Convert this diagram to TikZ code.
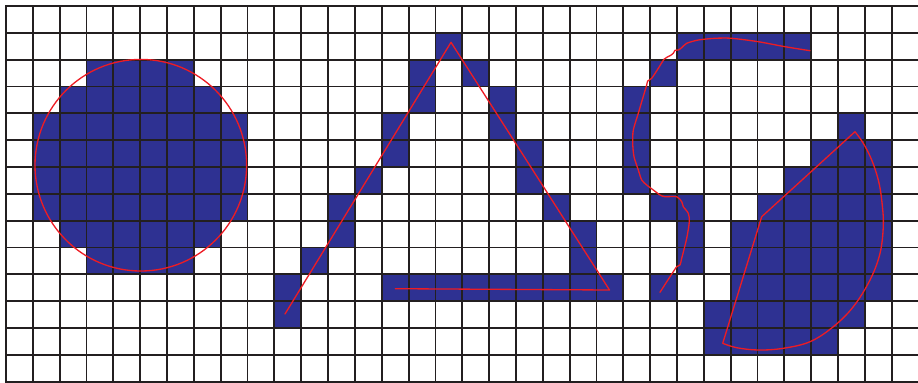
\documentclass[tikz,border=0pt]{standalone}
\definecolor{cellblue}{RGB}{46,49,146}
\definecolor{penred}{RGB}{237,28,36}
\definecolor{gridline}{RGB}{35,31,32}
\begin{document}
\begin{tikzpicture}[x=0.02cm,y=-0.02cm,
  cellfill/.style={fill=cellblue},
  gridrule/.style={draw=gridline,line width=1.05pt,line cap=rect},
  redpen/.style={draw=penred,line width=0.75pt,line join=round,line cap=round}]
\useasboundingbox (0,0) rectangle (918,382);
% filled cells: row / first column / last column
\foreach \r/\a/\b in {2/3/6,3/2/7,4/1/8,5/1/8,6/1/8,7/1/8,8/2/7,9/3/6,
  1/16/16,2/15/15,2/17/17,3/15/15,3/18/18,4/14/14,4/18/18,5/14/14,5/19/19,
  6/13/13,6/19/19,7/12/12,7/20/20,8/12/12,8/21/21,9/11/11,9/21/21,
  10/10/10,11/10/10,10/14/22,
  1/25/29,2/24/24,3/23/23,4/23/23,5/23/23,6/23/23,7/24/25,8/25/25,9/25/25,10/24/24,
  4/31/31,5/30/32,6/29/32,7/28/32,8/27/32,9/27/32,10/27/32,11/26/31,12/26/30}
  \fill[cellfill] ({6+26.84*\a},{6+26.84*\r}) rectangle ({6+26.84*(\b+1)},{6+26.84*(\r+1)});
% grid
\foreach \i in {0,...,34}
  \draw[gridrule] ({6+26.84*\i},6) -- ({6+26.84*\i},{6+26.84*14});
\foreach \j in {0,...,14}
  \draw[gridrule] (6,{6+26.84*\j}) -- ({6+26.84*34},{6+26.84*\j});
% red outlines
\draw[redpen] (140.8,165.2) circle[radius=105.8];
\draw[redpen] (285,314) -- (451,42.3) -- (609.5,290) -- (395.3,288.7);
\draw[redpen] plot[smooth,tension=0.45] coordinates {
  (810,50.7) (785,46.7) (758.3,41.7) (731.7,38.3) (715,38.3) (698.3,40)
  (686.7,43.3) (681.7,47.7) (678.3,50) (675,50.3) (673.3,53.3) (670,55.7)
  (664.3,59) (658.3,68.3) (651.7,78.3) (647.7,81) (646.7,85) (641.7,101.7)
  (638.3,113.3) (633.3,130) (632.7,143.3) (634,156.7) (638.3,170) (641.7,180)
  (646.7,185) (653.3,190) (660,195) (665,196.7) (676.7,196.7) (681.7,201.7)
  (683.3,206.7) (688.3,213.3) (689.3,221.7) (686.7,238.3) (681.7,258.3)
  (680,265) (676.7,266.7) (670,276.7) (660,292.3)};
\draw[redpen] (855,131.7) -- (761.7,216.7) -- (722.7,343.3) -- plot[smooth,tension=0.6] coordinates {
  (722.7,343.3) (736.7,347.7) (758.3,350) (783.3,348.3) (810,341.7) (833.3,326.7)
  (853.3,306.7) (870,280) (880,253.3) (883.3,225) (881.7,200) (878.3,180)
  (871.7,160) (863.3,143.3) (855,131.7)};
\end{tikzpicture}
\end{document}
